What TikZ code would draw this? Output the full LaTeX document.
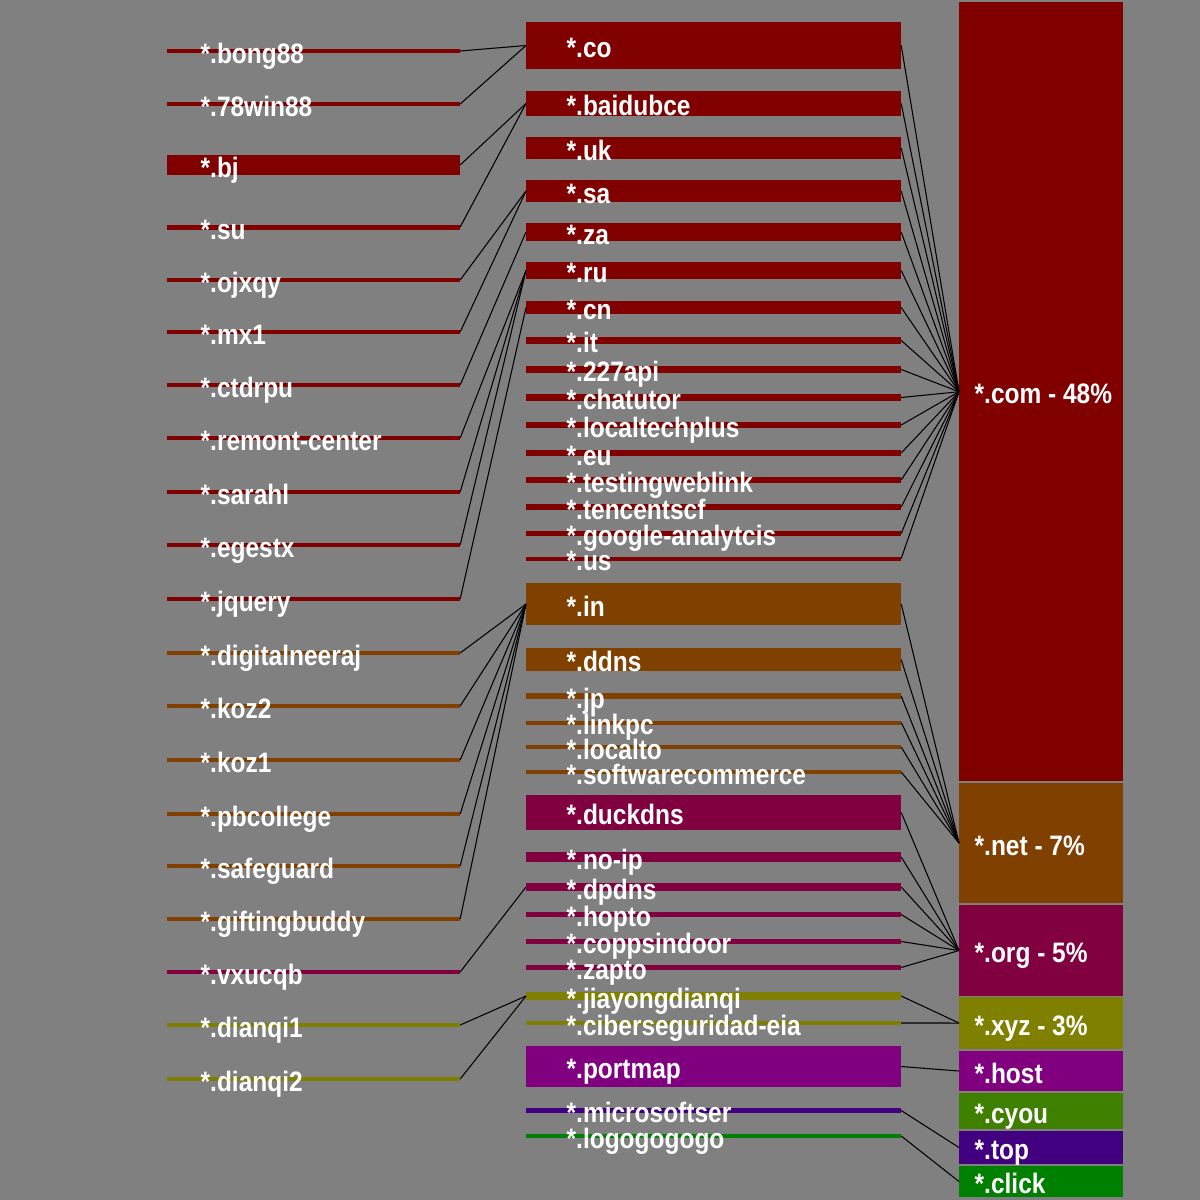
\documentclass[tikz,border=0pt]{standalone}
\usepackage{fontspec}
\setmainfont{Liberation Sans}[FakeStretch=0.87]
\definecolor{cbg}{HTML}{808080}
\definecolor{cred}{HTML}{800000}
\definecolor{corange}{HTML}{804000}
\definecolor{cwine}{HTML}{800040}
\definecolor{colive}{HTML}{808000}
\definecolor{cpurple}{HTML}{800080}
\definecolor{cgrass}{HTML}{408000}
\definecolor{cindigo}{HTML}{400080}
\definecolor{cgreen}{HTML}{008000}

\begin{document}
\begin{tikzpicture}[x=0.01cm, y=-0.01cm,
    lbar/.style={rectangle, inner sep=0, outer sep=0, anchor=west, minimum width=2.93cm},
    mbar/.style={rectangle, inner sep=0, outer sep=0, anchor=west, minimum width=3.75cm},
    rbar/.style={rectangle, inner sep=0, outer sep=0, anchor=north west, minimum width=1.64cm},
    tag/.style={text=white, font=\bfseries\fontsize{8}{9}\selectfont, inner sep=0, anchor=base west},
    link/.style={draw=black, line width=0.3pt}]

    % canvas
    \useasboundingbox (0,0) rectangle (1200,1200);
    \fill[cbg] (0,0) rectangle (1200,1200);

    % left column
    % nodes
    \node[lbar, fill=cred, minimum height=0.045cm] (lbong88) at (167,51) {};
    \node[lbar, fill=cred, minimum height=0.045cm] (l78win88) at (167,104) {};
    \node[lbar, fill=cred, minimum height=0.19cm] (lbj) at (167,165) {};
    \node[lbar, fill=cred, minimum height=0.05cm] (lsu) at (167,227) {};
    \node[lbar, fill=cred, minimum height=0.045cm] (lojxqy) at (167,280) {};
    \node[lbar, fill=cred, minimum height=0.045cm] (lmx1) at (167,332) {};
    \node[lbar, fill=cred, minimum height=0.045cm] (lctdrpu) at (167,385) {};
    \node[lbar, fill=cred, minimum height=0.045cm] (lremont) at (167,438) {};
    \node[lbar, fill=cred, minimum height=0.045cm] (lsarahl) at (167,492) {};
    \node[lbar, fill=cred, minimum height=0.045cm] (legestx) at (167,545) {};
    \node[lbar, fill=cred, minimum height=0.045cm] (ljquery) at (167,599) {};
    \node[lbar, fill=corange, minimum height=0.045cm] (ldigital) at (167,653) {};
    \node[lbar, fill=corange, minimum height=0.045cm] (lkoz2) at (167,706) {};
    \node[lbar, fill=corange, minimum height=0.045cm] (lkoz1) at (167,760) {};
    \node[lbar, fill=corange, minimum height=0.045cm] (lpbcollege) at (167,814) {};
    \node[lbar, fill=corange, minimum height=0.045cm] (lsafeguard) at (167,866) {};
    \node[lbar, fill=corange, minimum height=0.045cm] (lgifting) at (167,919) {};
    \node[lbar, fill=cwine, minimum height=0.045cm] (lvxucqb) at (167,972) {};
    \node[lbar, fill=colive, minimum height=0.045cm] (ldianqi1) at (167,1025) {};
    \node[lbar, fill=colive, minimum height=0.045cm] (ldianqi2) at (167,1079) {};

    % middle column
    % nodes
    \node[mbar, fill=cred, minimum height=0.47cm] (mco) at (526,45.5) {};
    \node[mbar, fill=cred, minimum height=0.25cm] (mbaidubce) at (526,103.5) {};
    \node[mbar, fill=cred, minimum height=0.22cm] (muk) at (526,148) {};
    \node[mbar, fill=cred, minimum height=0.22cm] (msa) at (526,191) {};
    \node[mbar, fill=cred, minimum height=0.18cm] (mza) at (526,232) {};
    \node[mbar, fill=cred, minimum height=0.17cm] (mru) at (526,270.5) {};
    \node[mbar, fill=cred, minimum height=0.13cm] (mcn) at (526,307.5) {};
    \node[mbar, fill=cred, minimum height=0.07cm] (mit) at (526,340.5) {};
    \node[mbar, fill=cred, minimum height=0.07cm] (m227api) at (526,369.5) {};
    \node[mbar, fill=cred, minimum height=0.07cm] (mchatutor) at (526,397.5) {};
    \node[mbar, fill=cred, minimum height=0.06cm] (mlocaltech) at (526,425) {};
    \node[mbar, fill=cred, minimum height=0.06cm] (meu) at (526,453) {};
    \node[mbar, fill=cred, minimum height=0.06cm] (mtesting) at (526,480) {};
    \node[mbar, fill=cred, minimum height=0.06cm] (mtencent) at (526,507) {};
    \node[mbar, fill=cred, minimum height=0.05cm] (mgoogle) at (526,533.5) {};
    \node[mbar, fill=cred, minimum height=0.04cm] (mus) at (526,558.5) {};
    \node[mbar, fill=corange, minimum height=0.42cm] (min) at (526,604) {};
    \node[mbar, fill=corange, minimum height=0.23cm] (mddns) at (526,659.5) {};
    \node[mbar, fill=corange, minimum height=0.06cm] (mjp) at (526,696) {};
    \node[mbar, fill=corange, minimum height=0.04cm] (mlinkpc) at (526,722.5) {};
    \node[mbar, fill=corange, minimum height=0.04cm] (mlocalto) at (526,747) {};
    \node[mbar, fill=corange, minimum height=0.04cm] (msoftware) at (526,772) {};
    \node[mbar, fill=cwine, minimum height=0.35cm] (mduckdns) at (526,812.5) {};
    \node[mbar, fill=cwine, minimum height=0.10cm] (mnoip) at (526,857) {};
    \node[mbar, fill=cwine, minimum height=0.08cm] (mdpdns) at (526,887) {};
    \node[mbar, fill=cwine, minimum height=0.05cm] (mhopto) at (526,914.5) {};
    \node[mbar, fill=cwine, minimum height=0.05cm] (mcopps) at (526,941.5) {};
    \node[mbar, fill=cwine, minimum height=0.05cm] (mzapto) at (526,967.5) {};
    \node[mbar, fill=colive, minimum height=0.08cm] (mjiayong) at (526,996) {};
    \node[mbar, fill=colive, minimum height=0.04cm] (mciber) at (526,1023) {};
    \node[mbar, fill=cpurple, minimum height=0.41cm] (mportmap) at (526,1066.5) {};
    \node[mbar, fill=cindigo, minimum height=0.05cm] (mmicrosoft) at (526,1110.5) {};
    \node[mbar, fill=cgreen, minimum height=0.04cm] (mlogo) at (526,1136) {};

    % right column
    % nodes
    \node[rbar, fill=cred, minimum height=7.79cm] (rcom) at (959,2) {};
    \node[rbar, fill=corange, minimum height=1.20cm] (rnet) at (959,783) {};
    \node[rbar, fill=cwine, minimum height=0.91cm] (rorg) at (959,905) {};
    \node[rbar, fill=colive, minimum height=0.52cm] (rxyz) at (959,997) {};
    \node[rbar, fill=cpurple, minimum height=0.40cm] (rhost) at (959,1051) {};
    \node[rbar, fill=cgrass, minimum height=0.36cm] (rcyou) at (959,1093) {};
    \node[rbar, fill=cindigo, minimum height=0.33cm] (rtop) at (959,1131) {};
    \node[rbar, fill=cgreen, minimum height=0.31cm] (rclick) at (959,1166) {};

    % paths
    \draw[link] (lbong88.east) -- (mco.west); % bong88 -> co
    \draw[link] (l78win88.east) -- (mco.west); % 78win88 -> co
    \draw[link] (lbj.east) -- (mbaidubce.west); % bj -> baidubce
    \draw[link] (lsu.east) -- (mbaidubce.west); % su -> baidubce
    \draw[link] (lojxqy.east) -- (msa.west); % ojxqy -> sa
    \draw[link] (lmx1.east) -- (msa.west); % mx1 -> sa
    \draw[link] (lctdrpu.east) -- (mza.west); % ctdrpu -> za
    \draw[link] (lremont.east) -- (mru.west); % remont-center -> ru
    \draw[link] (lsarahl.east) -- (mru.west); % sarahl -> ru
    \draw[link] (legestx.east) -- (mru.west); % egestx -> ru
    \draw[link] (ljquery.east) -- (mcn.west); % jquery -> cn
    \draw[link] (ldigital.east) -- (min.west); % digitalneeraj -> in
    \draw[link] (lkoz2.east) -- (min.west); % koz2 -> in
    \draw[link] (lkoz1.east) -- (min.west); % koz1 -> in
    \draw[link] (lpbcollege.east) -- (min.west); % pbcollege -> in
    \draw[link] (lsafeguard.east) -- (min.west); % safeguard -> in
    \draw[link] (lgifting.east) -- (min.west); % giftingbuddy -> in
    \draw[link] (lvxucqb.east) -- (mdpdns.west); % vxucqb -> dpdns
    \draw[link] (ldianqi1.east) -- (mjiayong.west); % dianqi1 -> jiayongdianqi
    \draw[link] (ldianqi2.east) -- (mjiayong.west); % dianqi2 -> jiayongdianqi

    \draw[link] (mco.east) -- (rcom.west); % co -> com
    \draw[link] (mbaidubce.east) -- (rcom.west);
    \draw[link] (muk.east) -- (rcom.west);
    \draw[link] (msa.east) -- (rcom.west);
    \draw[link] (mza.east) -- (rcom.west);
    \draw[link] (mru.east) -- (rcom.west);
    \draw[link] (mcn.east) -- (rcom.west);
    \draw[link] (mit.east) -- (rcom.west);
    \draw[link] (m227api.east) -- (rcom.west);
    \draw[link] (mchatutor.east) -- (rcom.west);
    \draw[link] (mlocaltech.east) -- (rcom.west);
    \draw[link] (meu.east) -- (rcom.west);
    \draw[link] (mtesting.east) -- (rcom.west);
    \draw[link] (mtencent.east) -- (rcom.west);
    \draw[link] (mgoogle.east) -- (rcom.west);
    \draw[link] (mus.east) -- (rcom.west); % us -> com
    \draw[link] (min.east) -- (rnet.west); % in -> net
    \draw[link] (mddns.east) -- (rnet.west);
    \draw[link] (mjp.east) -- (rnet.west);
    \draw[link] (mlinkpc.east) -- (rnet.west);
    \draw[link] (mlocalto.east) -- (rnet.west);
    \draw[link] (msoftware.east) -- (rnet.west); % softwarecommerce -> net
    \draw[link] (mduckdns.east) -- (rorg.west); % duckdns -> org
    \draw[link] (mnoip.east) -- (rorg.west);
    \draw[link] (mdpdns.east) -- (rorg.west);
    \draw[link] (mhopto.east) -- (rorg.west);
    \draw[link] (mcopps.east) -- (rorg.west);
    \draw[link] (mzapto.east) -- (rorg.west); % zapto -> org
    \draw[link] (mjiayong.east) -- (rxyz.west); % jiayongdianqi -> xyz
    \draw[link] (mciber.east) -- (rxyz.west); % ciberseguridad-eia -> xyz
    \draw[link] (mportmap.east) -- (rhost.west); % portmap -> host
    \draw[link] (mmicrosoft.east) -- (rtop.west); % microsoftser -> top
    \draw[link] (mlogo.east) -- (rclick.west); % logogogogo -> click

    % labels
    \node[tag] (lbong88-t) at (200,63) {*.bong88};
    \node[tag] (l78win88-t) at (200,116) {*.78win88};
    \node[tag] (lbj-t) at (200,177) {*.bj};
    \node[tag] (lsu-t) at (200,239) {*.su};
    \node[tag] (lojxqy-t) at (200,292) {*.ojxqy};
    \node[tag] (lmx1-t) at (200,344) {*.mx1};
    \node[tag] (lctdrpu-t) at (200,397) {*.ctdrpu};
    \node[tag] (lremont-t) at (200,450) {*.remont-center};
    \node[tag] (lsarahl-t) at (200,504) {*.sarahl};
    \node[tag] (legestx-t) at (200,557) {*.egestx};
    \node[tag] (ljquery-t) at (200,611) {*.jquery};
    \node[tag] (ldigital-t) at (200,665) {*.digitalneeraj};
    \node[tag] (lkoz2-t) at (200,718) {*.koz2};
    \node[tag] (lkoz1-t) at (200,772) {*.koz1};
    \node[tag] (lpbcollege-t) at (200,826) {*.pbcollege};
    \node[tag] (lsafeguard-t) at (200,878) {*.safeguard};
    \node[tag] (lgifting-t) at (200,931) {*.giftingbuddy};
    \node[tag] (lvxucqb-t) at (200,984) {*.vxucqb};
    \node[tag] (ldianqi1-t) at (200,1037) {*.dianqi1};
    \node[tag] (ldianqi2-t) at (200,1091) {*.dianqi2};

    \node[tag] (mco-t) at (566,57.5) {*.co};
    \node[tag] (mbaidubce-t) at (566,115.5) {*.baidubce};
    \node[tag] (muk-t) at (566,160) {*.uk};
    \node[tag] (msa-t) at (566,203) {*.sa};
    \node[tag] (mza-t) at (566,244) {*.za};
    \node[tag] (mru-t) at (566,282.5) {*.ru};
    \node[tag] (mcn-t) at (566,319.5) {*.cn};
    \node[tag] (mit-t) at (566,352.5) {*.it};
    \node[tag] (m227api-t) at (566,381.5) {*.227api};
    \node[tag] (mchatutor-t) at (566,409.5) {*.chatutor};
    \node[tag] (mlocaltech-t) at (566,437) {*.localtechplus};
    \node[tag] (meu-t) at (566,465) {*.eu};
    \node[tag] (mtesting-t) at (566,492) {*.testingweblink};
    \node[tag] (mtencent-t) at (566,519) {*.tencentscf};
    \node[tag] (mgoogle-t) at (566,545.5) {*.google-analytcis};
    \node[tag] (mus-t) at (566,570.5) {*.us};
    \node[tag] (min-t) at (566,616) {*.in};
    \node[tag] (mddns-t) at (566,671.5) {*.ddns};
    \node[tag] (mjp-t) at (566,708) {*.jp};
    \node[tag] (mlinkpc-t) at (566,734.5) {*.linkpc};
    \node[tag] (mlocalto-t) at (566,759) {*.localto};
    \node[tag] (msoftware-t) at (566,784) {*.softwarecommerce};
    \node[tag] (mduckdns-t) at (566,824.5) {*.duckdns};
    \node[tag] (mnoip-t) at (566,869) {*.no-ip};
    \node[tag] (mdpdns-t) at (566,899) {*.dpdns};
    \node[tag] (mhopto-t) at (566,926.5) {*.hopto};
    \node[tag] (mcopps-t) at (566,953.5) {*.coppsindoor};
    \node[tag] (mzapto-t) at (566,979.5) {*.zapto};
    \node[tag] (mjiayong-t) at (566,1008) {*.jiayongdianqi};
    \node[tag] (mciber-t) at (566,1035) {*.ciberseguridad-eia};
    \node[tag] (mportmap-t) at (566,1078.5) {*.portmap};
    \node[tag] (mmicrosoft-t) at (566,1122.5) {*.microsoftser};
    \node[tag] (mlogo-t) at (566,1148) {*.logogogogo};

    \node[tag] (rcom-t) at (974,403.5) {*.com - 48\%};
    \node[tag] (rnet-t) at (974,855) {*.net - 7\%};
    \node[tag] (rorg-t) at (974,962.5) {*.org - 5\%};
    \node[tag] (rxyz-t) at (974,1035) {*.xyz - 3\%};
    \node[tag] (rhost-t) at (974,1083) {*.host};
    \node[tag] (rcyou-t) at (974,1123) {*.cyou};
    \node[tag] (rtop-t) at (974,1159.5) {*.top};
    \node[tag] (rclick-t) at (974,1193.5) {*.click};

\end{tikzpicture}
\end{document}
